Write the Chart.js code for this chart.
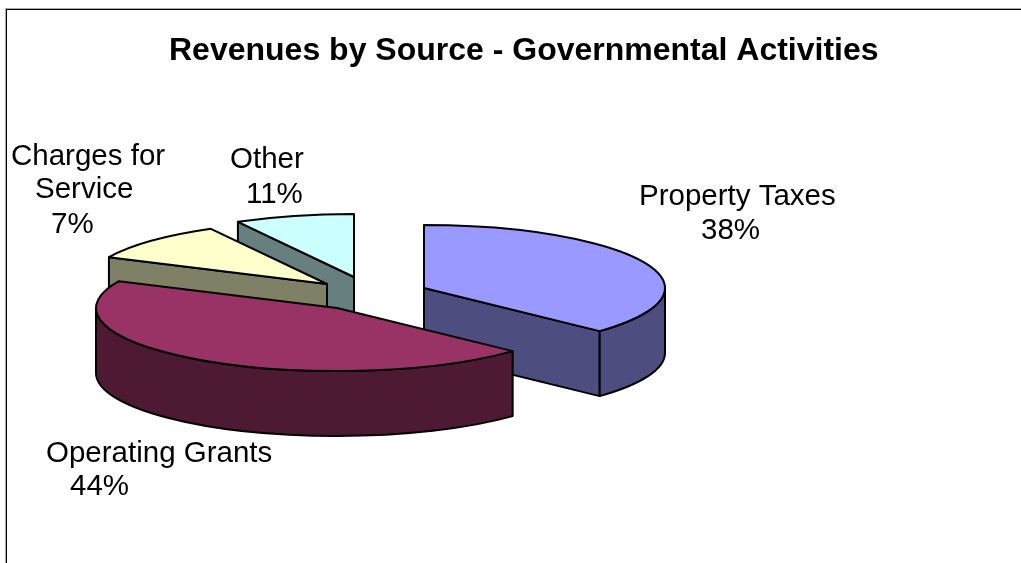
<!DOCTYPE html>
<html>
<head>
<meta charset="utf-8">
<style>
html,body{margin:0;padding:0;background:#fff;overflow:hidden}
canvas{display:block}
</style>
<script src="https://cdn.jsdelivr.net/npm/chart.js@4/dist/chart.umd.min.js"></script>
</head>
<body>
<canvas id="c" width="1021" height="563"></canvas>
<script>
const chartTitle = "Revenues by Source - Governmental Activities";
const categories = ["Property Taxes", "Operating Grants", "Charges for Service", "Other"];
// Percentages printed on the chart's labels.
const printedPercents = [38, 44, 7, 11];
// Share of the circle each wedge visibly occupies in the picture (differs from the printed labels).
const drawnShares = [37, 45, 10, 8];
const topColors = ["#9999FF", "#993366", "#FFFFCC", "#CCFFFF"];
const wallColors = ["#4D4D80", "#4D1933", "#808066", "#668080"];

// Presentation settings
const pieCentre = {x: 360, y: 292};
const explode = [[64, -4], [-23, 16], [-33, -8], [-6, -15]];
const squash = 0.2614, depth = 65, pieRadius = 241;
const paintOrder = [3, 2, 0, 1];
const labelFont = '29.5px "Liberation Sans", Arial, sans-serif';
// One entry per printed line: category index, text part, left edge, baseline
const labelLines = [
  [0, categories[0], 639, 205],
  [0, printedPercents[0] + "%", 701, 239],
  [1, categories[1], 46, 462],
  [1, printedPercents[1] + "%", 70, 495],
  [2, "Charges for", 11, 165],
  [2, "Service", 35, 198],
  [2, printedPercents[2] + "%", 51, 233],
  [3, categories[3], 230, 168],
  [3, printedPercents[3] + "%", 246, 203]
];

const pie3d = {
  id: "pie3d",
  beforeDraw(chart) {
    const ctx = chart.ctx;
    ctx.save();
    ctx.fillStyle = "#fff";
    ctx.fillRect(0, 0, chart.width, chart.height);
    ctx.fillStyle = "#aaaaaa";
    ctx.fillRect(5, 8, chart.width - 5, 1);
    ctx.fillRect(5, 8, 1, chart.height - 8);
    ctx.fillStyle = "#000";
    ctx.fillRect(6, 9, chart.width - 6, 1);
    ctx.fillRect(6, 9, 1, chart.height - 9);
    ctx.restore();
  },
  beforeDatasetsDraw(chart) {
    const ctx = chart.ctx;
    const arcs = chart.getDatasetMeta(0).data;
    paintOrder.forEach(i => {
      const arc = arcs[i];
      const R = arc.outerRadius, s = arc.startAngle, e = arc.endAngle;
      const ax = pieCentre.x + explode[i][0], ay = pieCentre.y + explode[i][1];
      const pt = t => [ax + R * Math.cos(t), ay + squash * R * Math.sin(t)];
      ctx.save();
      ctx.lineWidth = 2;
      ctx.lineJoin = "round";
      ctx.strokeStyle = "#000";
      ctx.fillStyle = wallColors[i];

      const radialWall = t => {
        const p = pt(t);
        ctx.beginPath();
        ctx.moveTo(ax, ay);
        ctx.lineTo(p[0], p[1]);
        ctx.lineTo(p[0], p[1] + depth);
        ctx.lineTo(ax, ay + depth);
        ctx.closePath();
        ctx.fill();
        ctx.stroke();
      };
      if (Math.cos(s) < -1e-6) radialWall(s);
      if (Math.cos(e) > 1e-6) radialWall(e);

      // Outer rim: the part of the wedge on the viewer's half of the ellipse
      for (let k = -1; k <= 1; k++) {
        const a = Math.max(s, k * 2 * Math.PI);
        const b = Math.min(e, k * 2 * Math.PI + Math.PI);
        if (b - a > 1e-6) {
          ctx.beginPath();
          ctx.ellipse(ax, ay, R, squash * R, 0, a, b, false);
          ctx.ellipse(ax, ay + depth, R, squash * R, 0, b, a, true);
          ctx.closePath();
          ctx.fill();
          ctx.stroke();
        }
      }

      // Top face: the library's own arc, flattened into an ellipse
      ctx.save();
      ctx.translate(ax, ay);
      ctx.scale(1, squash);
      ctx.translate(-arc.x, -arc.y);
      arc.draw(ctx);
      ctx.restore();
      ctx.beginPath();
      ctx.moveTo(ax, ay);
      ctx.ellipse(ax, ay, R, squash * R, 0, s, e, false);
      ctx.closePath();
      ctx.stroke();
      ctx.restore();
    });
    return false;
  },
  afterDraw(chart) {
    const ctx = chart.ctx;
    ctx.save();
    ctx.font = labelFont;
    ctx.fillStyle = "#000";
    ctx.textAlign = "left";
    ctx.textBaseline = "alphabetic";
    labelLines.forEach(l => ctx.fillText(l[1], l[2], l[3]));
    ctx.restore();
  }
};

new Chart(document.getElementById("c"), {
  type: "pie",
  data: {
    labels: categories,
    datasets: [{
      data: drawnShares,
      backgroundColor: topColors,
      borderWidth: 0
    }]
  },
  options: {
    responsive: false,
    animation: false,
    radius: pieRadius,
    layout: {padding: {left: 169}},
    plugins: {
      legend: {display: false},
      tooltip: {enabled: false},
      title: {
        display: true,
        fullSize: false,
        align: "start",
        text: chartTitle,
        color: "#000",
        font: {family: '"Liberation Sans", Arial, sans-serif', size: 32, weight: "bold", lineHeight: 1.2},
        padding: {top: 32, bottom: 0}
      }
    }
  },
  plugins: [pie3d]
});
</script>
</body>
</html>
